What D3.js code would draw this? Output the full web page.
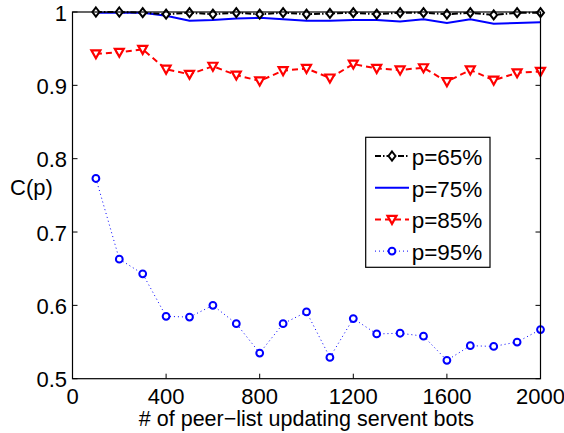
<!DOCTYPE html>
<html lang="en">
<head>
    <meta charset="UTF-8">
    <title>C(p) vs peer-list updating servent bots</title>
    <script src="https://d3js.org/d3.v7.min.js"></script>
    <style>
        body { margin: 0; background: #fff; }
        svg { display: block; }
        text { font-family: "Liberation Sans", Arial, Helvetica, sans-serif; font-size: 22px; fill: #000; }
    </style>
</head>
<body>
    <svg id="chart" width="564" height="433"></svg>
    <script>
        // number of peer-list updating servent bots
        const bots = [100, 200, 300, 400, 500, 600, 700, 800, 900, 1000,
                      1100, 1200, 1300, 1400, 1500, 1600, 1700, 1800, 1900, 2000];

        const p65 = [1.000, 1.000, 0.999, 0.997, 0.999, 0.997, 0.999, 0.997, 0.999, 0.997,
                     0.998, 0.999, 0.997, 0.999, 0.999, 0.997, 0.999, 0.996, 0.999, 0.999];
        const p75 = [0.999, 0.999, 0.999, 0.995, 0.988, 0.989, 0.991, 0.992, 0.990, 0.988,
                     0.988, 0.989, 0.989, 0.987, 0.990, 0.985, 0.990, 0.984, 0.985, 0.986];
        const p85 = [0.943, 0.945, 0.949, 0.922, 0.915, 0.926, 0.914, 0.906, 0.920, 0.923,
                     0.910, 0.929, 0.923, 0.921, 0.924, 0.905, 0.921, 0.907, 0.917, 0.919];
        const p95 = [0.773, 0.663, 0.643, 0.585, 0.584, 0.600, 0.575, 0.535, 0.575, 0.591,
                     0.529, 0.582, 0.561, 0.562, 0.558, 0.525, 0.545, 0.544, 0.550, 0.567];

        const xTicks = [0, 400, 800, 1200, 1600, 2000];
        const yTicks = [0.5, 0.6, 0.7, 0.8, 0.9, 1];
        const yTickLabels = ["0.5", "0.6", "0.7", "0.8", "0.9", "1"];

        const seriesNames = ["p=65%", "p=75%", "p=85%", "p=95%"];

        const svg = d3.select("#chart");
        const pLeft = 72.5, pRight = 540.5, pTop = 12, pBottom = 378.7;

        const x = d3.scaleLinear().domain([0, 2000]).range([pLeft, pRight]);
        const y = d3.scaleLinear().domain([0.5, 1]).range([pBottom, pTop]);

        // axes box with inward ticks on all sides
        const tickLen = 5;
        const axes = svg.append("g");
        axes.selectAll(".xt").data(xTicks).join("line")
            .attr("x1", d => x(d)).attr("x2", d => x(d))
            .attr("y1", pBottom).attr("y2", pBottom - tickLen)
            .attr("stroke", "#000");
        axes.selectAll(".xtt").data(xTicks).join("line")
            .attr("x1", d => x(d)).attr("x2", d => x(d))
            .attr("y1", pTop).attr("y2", pTop + tickLen)
            .attr("stroke", "#000");
        axes.selectAll(".yt").data(yTicks).join("line")
            .attr("x1", pLeft).attr("x2", pLeft + tickLen)
            .attr("y1", d => y(d)).attr("y2", d => y(d))
            .attr("stroke", "#000");
        axes.selectAll(".ytr").data(yTicks).join("line")
            .attr("x1", pRight).attr("x2", pRight - tickLen)
            .attr("y1", d => y(d)).attr("y2", d => y(d))
            .attr("stroke", "#000");

        svg.append("g").selectAll("text").data(xTicks).join("text")
            .attr("x", d => x(d)).attr("y", 404)
            .attr("text-anchor", "middle")
            .text(d => d);
        svg.append("g").selectAll("text").data(yTicks).join("text")
            .attr("x", 67).attr("y", d => y(d) + 8.5)
            .attr("text-anchor", "end")
            .text((d, i) => yTickLabels[i]);

        svg.append("text").attr("x", (pLeft + pRight) / 2).attr("y", 426)
            .attr("text-anchor", "middle")
            .style("font-size", "21.5px")
            .text("# of peer\u2212list updating servent bots");
        svg.append("text").attr("x", 10).attr("y", 195).text("C(p)");

        // markers
        function drawMarker(sel, kind, color) {
            if (kind === "diamond") {
                sel.append("path").attr("d", "M0,-4.5L3.5,0L0,4.5L-3.5,0Z")
                    .attr("fill", "#fff").attr("stroke", color).attr("stroke-width", 2);
            } else if (kind === "tri") {
                sel.append("path").attr("d", "M-4.5,-3.5L4.5,-3.5L0,4.5Z")
                    .attr("fill", "#fff").attr("stroke", color).attr("stroke-width", 2.2)
                    .attr("stroke-linejoin", "miter");
            } else if (kind === "circle") {
                sel.append("circle").attr("r", 3.4)
                    .attr("fill", "#fff").attr("stroke", color).attr("stroke-width", 2);
            }
        }

        const styles = [
            { data: p65, color: "#000", width: 2, dash: "6,2,1.5,2", marker: "diamond" },
            { data: p75, color: "#0000ff", width: 2, dash: null, marker: null },
            { data: p85, color: "#ff0000", width: 2, dash: "6,4", marker: "tri" },
            { data: p95, color: "#0000ff", width: 1, dash: "1,3", marker: "circle" }
        ];

        const line = d3.line().x((d, i) => x(bots[i])).y(d => y(d));
        const plot = svg.append("g");

        // draw from last to first so p=65% sits on top
        [3, 2, 1, 0].forEach(k => {
            const s = styles[k];
            plot.append("path").datum(s.data)
                .attr("d", line)
                .attr("fill", "none")
                .attr("stroke", s.color)
                .attr("stroke-width", s.width)
                .attr("stroke-dasharray", s.dash);
            if (s.marker) {
                s.data.forEach((v, i) => {
                    const g = plot.append("g").attr("transform", `translate(${x(bots[i])},${y(v)})`);
                    drawMarker(g, s.marker, s.color);
                });
            }
        });

        // box lines on top of data
        svg.append("rect").attr("x", pLeft).attr("y", pTop)
            .attr("width", pRight - pLeft).attr("height", pBottom - pTop)
            .attr("fill", "none").attr("stroke", "#000").attr("stroke-width", 1.2);

        // legend
        const leg = svg.append("g");
        leg.append("rect").attr("x", 365.7).attr("y", 137.3)
            .attr("width", 124.3).attr("height", 130)
            .attr("fill", "#fff").attr("stroke", "#000").attr("stroke-width", 1.2);
        seriesNames.forEach((name, i) => {
            const s = styles[i];
            const ly = 156 + i * 31.7;
            leg.append("line").attr("x1", 375).attr("x2", 409)
                .attr("y1", ly).attr("y2", ly)
                .attr("stroke", s.color).attr("stroke-width", s.width)
                .attr("stroke-dasharray", s.dash);
            if (s.marker) {
                const g = leg.append("g").attr("transform", `translate(392,${ly})`);
                drawMarker(g, s.marker, s.color);
            }
            leg.append("text").attr("x", 411.7).attr("y", ly + 9)
                .style("font-size", "22.5px").text(name);
        });
    </script>
</body>
</html>
